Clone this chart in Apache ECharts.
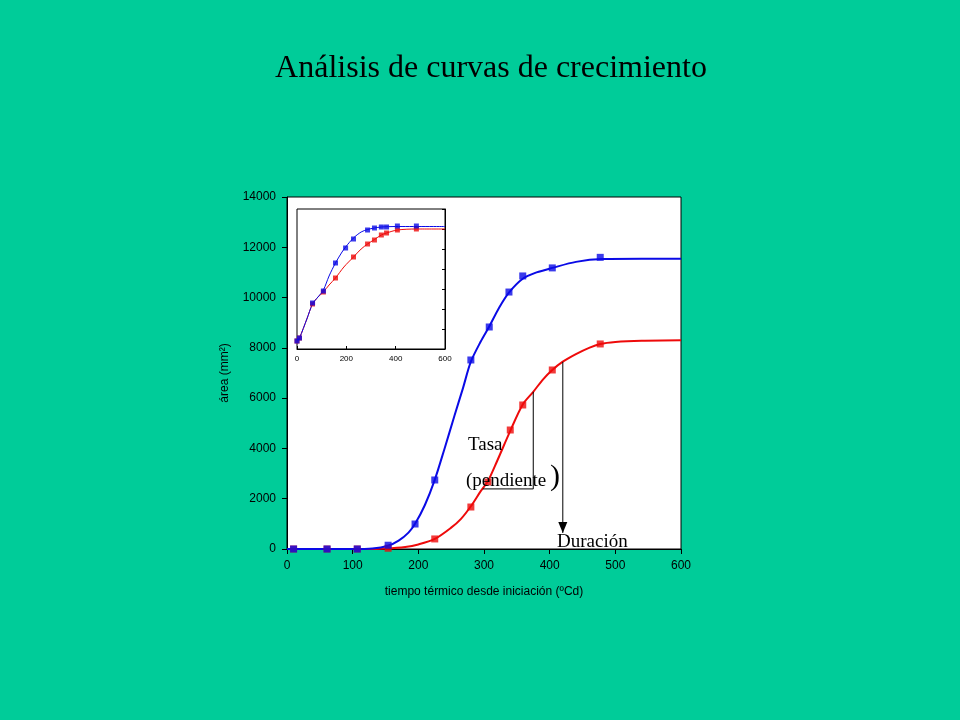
<!DOCTYPE html>
<html>
<head>
<meta charset="utf-8">
<script src="https://cdn.jsdelivr.net/npm/echarts@6/dist/echarts.min.js"></script>
<style>
html,body{margin:0;padding:0;background:#00CC99;}
#c{width:960px;height:720px;}
</style>
</head>
<body>
<div id="c"></div>
<script>
// ---- main chart data (área mm² vs tiempo térmico ºCd) ----
var bluePoints = [[10,0],[61,0],[107,0],[154,150],[195,994],[225,2745],[280,7518],[308,8830],[338,10220],[359,10860],[404,11180],[477,11600]];
var redPoints  = [[10,0],[61,0],[107,0],[154,30],[225,400],[280,1670],[306,2665],[340,4733],[359,5728],[404,7120],[477,8155]];
var blueCurve = [[0,0],[100,0],[130,20],[154,130],[170,330],[185,650],[195,1000],[210,1750],[225,2750],[240,4000],[255,5300],[268,6400],[280,7450],[295,8250],[308,8850],[323,9600],[338,10200],[359,10750],[380,11000],[404,11180],[440,11420],[480,11530],[540,11540],[600,11540]];
var redCurve  = [[0,0],[120,0],[150,20],[180,80],[200,180],[225,400],[250,850],[265,1200],[280,1700],[295,2300],[306,2700],[320,3500],[340,4700],[359,5750],[375,6250],[390,6750],[404,7120],[420,7450],[440,7750],[460,8000],[477,8150],[500,8230],[540,8280],[600,8300]];
// slope triangle and duration arrow (data coordinates)
var slopeTriangle = [[298,2390],[375,2390],[375,6250]];
var durationArrow = [[420,7440],[420,640]];
// ---- inset data (relative units) ----
var insetBlue = [[0,0.8],[10,1.1],[63,4.6],[107,5.8],[156,8.6],[197,10.1],[229,11.0],[286,11.9],[314,12.1],[342,12.2],[363,12.2],[407,12.3],[484,12.3]];
var insetRed  = [[0,0.8],[10,1.1],[63,4.5],[107,5.7],[156,7.1],[229,9.2],[286,10.5],[314,10.9],[342,11.4],[363,11.6],[407,11.9],[484,12.0]];
var insetBlueCurve = [[0,0.8],[10,1.1],[40,3.0],[63,4.5],[85,5.2],[107,5.9],[130,7.3],[156,8.6],[180,9.6],[197,10.2],[229,11.1],[260,11.7],[286,11.95],[314,12.1],[342,12.2],[400,12.25],[600,12.25]];
var insetRedCurve  = [[0,0.8],[10,1.1],[40,3.0],[63,4.5],[85,5.2],[107,5.7],[130,6.4],[156,7.1],[190,8.2],[229,9.2],[260,10.0],[286,10.5],[314,10.95],[342,11.4],[363,11.6],[407,11.9],[484,12.0],[600,12.0]];

var xTicksMain = {min:0,max:600,interval:100};
var yTicksMain = {min:0,max:14000,interval:2000};
var xTicksInset = {min:0,max:600,interval:200};
var yTicksInset = {min:0,max:14,interval:2};

var BLUE = '#0a0ae6', RED = '#ee0a0a';
var chart = echarts.init(document.getElementById('c'));
chart.setOption({
  backgroundColor: '#00CC99',
  animation: false,
  grid: [
    {left:287, top:197, width:394, height:352, show:true, backgroundColor:'#ffffff', borderColor:'#000', borderWidth:1, containLabel:false},
    {left:297, top:209, width:148, height:140, show:true, backgroundColor:'#ffffff', borderColor:'#000', borderWidth:1, containLabel:false, z:5}
  ],
  xAxis: [
    {gridIndex:0, type:'value', min:xTicksMain.min, max:xTicksMain.max, interval:xTicksMain.interval,
     name:'tiempo térmico desde iniciación (ºCd)', nameLocation:'middle', nameGap:37,
     nameTextStyle:{color:'#000', fontFamily:'Liberation Sans', fontSize:12},
     axisLine:{onZero:false, lineStyle:{color:'#000', width:1}},
     axisTick:{show:true, inside:false, length:5, lineStyle:{color:'#000'}},
     axisLabel:{color:'#000', fontFamily:'Liberation Sans', fontSize:12, margin:11, formatter:function(v){return String(v);}},
     splitLine:{show:false}},
    {gridIndex:1, type:'value', min:xTicksInset.min, max:xTicksInset.max, interval:xTicksInset.interval,
     axisLine:{onZero:false, lineStyle:{color:'#000', width:1}},
     axisTick:{show:true, inside:true, length:3, lineStyle:{color:'#000'}},
     axisLabel:{color:'#000', fontFamily:'Liberation Sans', fontSize:8, margin:6, formatter:function(v){return String(v);}},
     splitLine:{show:false}, z:6}
  ],
  yAxis: [
    {gridIndex:0, type:'value', min:yTicksMain.min, max:yTicksMain.max, interval:yTicksMain.interval,
     name:'área (mm²)', nameLocation:'middle', nameGap:56,
     nameTextStyle:{color:'#000', fontFamily:'Liberation Sans', fontSize:12},
     axisLine:{show:true, onZero:false, lineStyle:{color:'#000', width:1}},
     axisTick:{show:true, inside:false, length:5, lineStyle:{color:'#000'}},
     axisLabel:{color:'#000', fontFamily:'Liberation Sans', fontSize:12, margin:11, formatter:function(v){return String(v);}},
     splitLine:{show:false}},
    {gridIndex:1, type:'value', position:'right', min:yTicksInset.min, max:yTicksInset.max, interval:yTicksInset.interval,
     axisLine:{show:true, onZero:false, lineStyle:{color:'#000', width:1}},
     axisTick:{show:true, inside:true, length:3, lineStyle:{color:'#000'}},
     axisLabel:{show:false},
     splitLine:{show:false}, z:6}
  ],
  series: [
    {type:'line', xAxisIndex:0, yAxisIndex:0, data:redCurve, smooth:0.3, showSymbol:false, symbol:'none', lineStyle:{color:RED, width:2}, z:2},
    {type:'line', xAxisIndex:0, yAxisIndex:0, data:blueCurve, smooth:0.3, showSymbol:false, symbol:'none', lineStyle:{color:BLUE, width:2}, z:2},
    {type:'scatter', xAxisIndex:0, yAxisIndex:0, data:redPoints, symbol:'rect', symbolSize:7, itemStyle:{color:RED}, z:3},
    {type:'scatter', xAxisIndex:0, yAxisIndex:0, data:bluePoints, symbol:'rect', symbolSize:7, itemStyle:{color:BLUE}, z:4},
    {type:'line', xAxisIndex:0, yAxisIndex:0, data:slopeTriangle, showSymbol:false, symbol:'none', lineStyle:{color:'#000', width:1}, z:3},
    {type:'line', xAxisIndex:0, yAxisIndex:0, data:durationArrow, showSymbol:false, symbol:'none',
     lineStyle:{color:'#000', width:1}, z:3,
     markPoint:{symbol:'triangle', symbolSize:[9,11], symbolRotate:180, itemStyle:{color:'#000'}, label:{show:false},
       data:[{coord:[420,640], symbolOffset:[0,'-50%']}]}},
    {type:'line', xAxisIndex:1, yAxisIndex:1, data:insetRedCurve, smooth:0.3, showSymbol:false, symbol:'none', lineStyle:{color:RED, width:1}, z:7},
    {type:'line', xAxisIndex:1, yAxisIndex:1, data:insetBlueCurve, smooth:0.3, showSymbol:false, symbol:'none', lineStyle:{color:BLUE, width:1}, z:7},
    {type:'scatter', xAxisIndex:1, yAxisIndex:1, data:insetRed, symbol:'rect', symbolSize:5, itemStyle:{color:RED}, z:8},
    {type:'scatter', xAxisIndex:1, yAxisIndex:1, data:insetBlue, symbol:'rect', symbolSize:5, itemStyle:{color:BLUE}, z:9}
  ],
  graphic: [
    {type:'text', style:{text:'Análisis de curvas de crecimiento', x:491, y:69, textAlign:'center', textVerticalAlign:'middle', font:'32px "Liberation Serif"', fill:'#000'}, z:20},
    {type:'text', style:{text:'Tasa', x:468, y:445, textVerticalAlign:'middle', font:'19px "Liberation Serif"', fill:'#000'}, z:20},
    {type:'text', style:{text:'(pendiente', x:466, y:481, textVerticalAlign:'middle', font:'19px "Liberation Serif"', fill:'#000'}, z:20},
    {type:'text', style:{text:')', x:550, y:477, textVerticalAlign:'middle', font:'30px "Liberation Serif"', fill:'#000'}, z:20},
    {type:'text', style:{text:'Duración', x:557, y:542, textVerticalAlign:'middle', font:'19px "Liberation Serif"', fill:'#000'}, z:20}
  ]
});
</script>
</body>
</html>
